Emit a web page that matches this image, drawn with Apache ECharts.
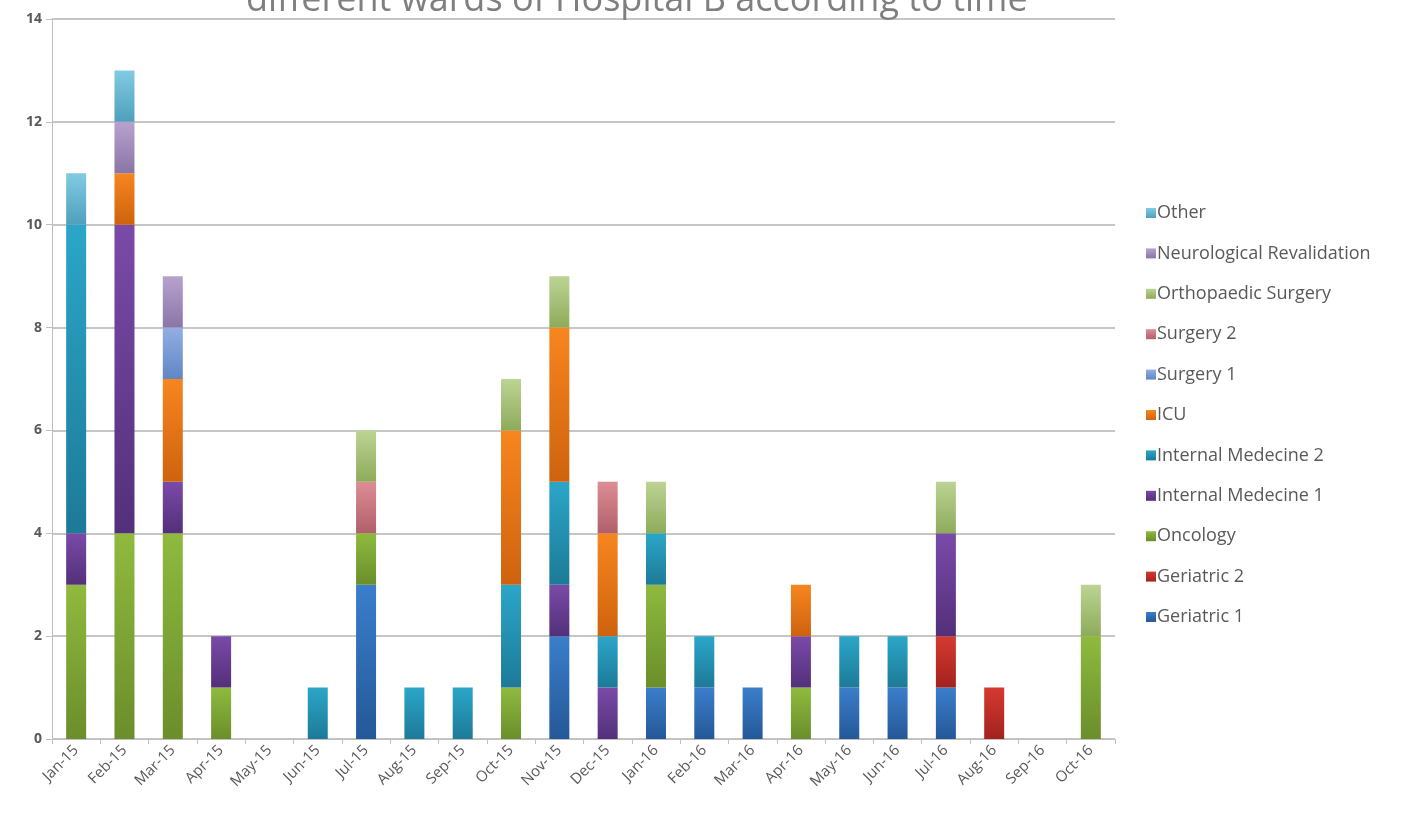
<!DOCTYPE html>
<html>
<head>
<meta charset="utf-8">
<script src="https://cdn.jsdelivr.net/npm/echarts@6/dist/echarts.min.js"></script>
<style>
html,body{margin:0;padding:0;background:#fff;}
#chart{width:1405px;height:818px;}
</style>
</head>
<body>
<div id="chart"></div>
<script>
const months = ['Jan-15','Feb-15','Mar-15','Apr-15','May-15','Jun-15','Jul-15','Aug-15','Sep-15','Oct-15','Nov-15','Dec-15','Jan-16','Feb-16','Mar-16','Apr-16','May-16','Jun-16','Jul-16','Aug-16','Sep-16','Oct-16'];
const yTicks = [0, 14, 2];
const titleText = 'different wards of Hospital B according to time';

const geriatric1   = [0,0,0,0,0,0,3,0,0,0,2,0,1,1,1,0,1,1,1,0,0,0];
const geriatric2   = [0,0,0,0,0,0,0,0,0,0,0,0,0,0,0,0,0,0,1,1,0,0];
const oncology     = [3,4,4,1,0,0,1,0,0,1,0,0,2,0,0,1,0,0,0,0,0,2];
const internalMed1 = [1,6,1,1,0,0,0,0,0,0,1,1,0,0,0,1,0,0,2,0,0,0];
const internalMed2 = [6,0,0,0,0,1,0,1,1,2,2,1,1,1,0,0,1,1,0,0,0,0];
const icu          = [0,1,2,0,0,0,0,0,0,3,3,2,0,0,0,1,0,0,0,0,0,0];
const surgery1     = [0,0,1,0,0,0,0,0,0,0,0,0,0,0,0,0,0,0,0,0,0,0];
const surgery2     = [0,0,0,0,0,0,1,0,0,0,0,1,0,0,0,0,0,0,0,0,0,0];
const orthopaedic  = [0,0,0,0,0,0,1,0,0,1,1,0,1,0,0,0,0,0,1,0,0,1];
const neuroReval   = [0,1,1,0,0,0,0,0,0,0,0,0,0,0,0,0,0,0,0,0,0,0];
const other        = [1,1,0,0,0,0,0,0,0,0,0,0,0,0,0,0,0,0,0,0,0,0];

const seriesNames = ['Geriatric 1','Geriatric 2','Oncology','Internal Medecine 1','Internal Medecine 2','ICU','Surgery 1','Surgery 2','Orthopaedic Surgery','Neurological Revalidation','Other'];
const seriesData = [geriatric1, geriatric2, oncology, internalMed1, internalMed2, icu, surgery1, surgery2, orthopaedic, neuroReval, other];
const colorPairs = [
  ['#3b7ecb','#245898'],
  ['#d53a30','#a3221d'],
  ['#8fba3e','#6a8e2b'],
  ['#7a4aa8','#53307a'],
  ['#2ba6c8','#1d7a98'],
  ['#f7861f','#cf620e'],
  ['#93aee3','#5f86c6'],
  ['#dc8d95','#b0606a'],
  ['#bcd494','#8eab5a'],
  ['#b7a2cf','#8a76a6'],
  ['#82cae2','#4ea0bd']
];

function grad(c){
  return new echarts.graphic.LinearGradient(0,0,0,1,[{offset:0,color:c[0]},{offset:1,color:c[1]}]);
}

const chart = echarts.init(document.getElementById('chart'));
chart.setOption({
  backgroundColor:'#ffffff',
  animation:false,
  title:{
    text:titleText,
    left:241,
    top:-22,
    textStyle:{fontFamily:'Open Sans',fontSize:36,fontWeight:'normal',color:'#7f7f7f',lineHeight:36}
  },
  legend:{
    orient:'vertical',
    left:1141,
    top:199,
    itemWidth:10,
    itemHeight:10,
    itemGap:22.4,
    icon:'rect',
    data:seriesNames.slice().reverse(),
    textStyle:{fontFamily:'Open Sans',fontSize:18,lineHeight:18,color:'#595959',padding:[0,0,0,-4]}
  },
  grid:{left:52,right:290,top:19,bottom:79},
  xAxis:{
    type:'category',
    data:months,
    boundaryGap:true,
    axisLine:{lineStyle:{color:'#bfbfbf',width:1}},
    axisTick:{show:true,length:5,lineStyle:{color:'#bfbfbf'}},
    axisLabel:{rotate:45,fontFamily:'Open Sans',fontSize:15,color:'#595959',margin:9}
  },
  yAxis:{
    type:'value',
    min:yTicks[0],max:yTicks[1],interval:yTicks[2],
    axisLine:{show:true,lineStyle:{color:'#bfbfbf'}},
    axisTick:{show:true,length:6,lineStyle:{color:'#bfbfbf'}},
    axisLabel:{fontFamily:'Open Sans',fontSize:14,color:'#595959',fontWeight:'bold',margin:10},
    splitLine:{lineStyle:{color:'#b3b3b3',width:1.5}}
  },
  series:seriesNames.map((n,i)=>({
    name:n,
    type:'bar',
    stack:'total',
    barWidth:20,
    data:seriesData[i],
    itemStyle:{color:grad(colorPairs[i])}
  }))
});
</script>
</body>
</html>
